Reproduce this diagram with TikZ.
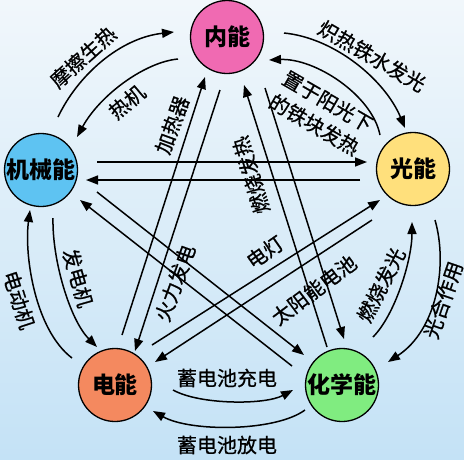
\documentclass[tikz,border=0pt]{standalone}
\usepackage{fontspec}
\newfontfamily\cjk{Noto Sans CJK SC}
\newfontfamily\cjkm[FakeBold=0.8]{Noto Sans CJK SC}
\usetikzlibrary{arrows.meta,calc}
\definecolor{bgtop}{RGB}{241,247,251}
\definecolor{bgmid}{RGB}{228,240,249}
\definecolor{bgbot}{RGB}{196,226,246}
\definecolor{cpink}{RGB}{240,106,178}
\definecolor{cblue}{RGB}{94,195,242}
\definecolor{cyellow}{RGB}{255,224,124}
\definecolor{corange}{RGB}{244,137,95}
\definecolor{cgreen}{RGB}{128,236,128}
\tikzset{
  energy/.style={circle, draw=black, line width=1.3pt, minimum size=73pt, inner sep=0pt,
    font=\cjk\bfseries\fontsize{23}{23}\selectfont},
  lbl/.style={font=\cjkm\fontsize{20}{27}\selectfont, inner sep=0pt, align=center},
  arr/.style={line width=1.5pt, -{Triangle[length=12pt,width=9pt]}}
}
\begin{document}
\begin{tikzpicture}[x=1pt,y=-1pt]
\useasboundingbox (0,0) rectangle (464,459);
\shade[top color=bgtop, middle color=bgmid, bottom color=bgbot] (0,0) rectangle (464,459);

% energy nodes
\node[energy, fill=cpink]   (N) at (227,37)  {内能};
\node[energy, fill=cblue]   (M) at (41,170)  {机械能};
\node[energy, fill=cyellow] (G) at (413,169) {光能};
\node[energy, fill=corange] (E) at (115,385) {电能};
\node[energy, fill=cgreen]  (C) at (342,385) {化学能};

% curved connectors
\draw[arr] ($(M)+(17,-53)$) .. controls (78,75) and (120,38) .. ($(N)+(-53,-5)$);
\draw[arr] ($(N)+(-49,22)$) .. controls (145,62) and (100,95) .. ($(M)+(36,-33)$);
\draw[arr] ($(N)+(57,-4)$) .. controls (335,38) and (385,80) .. ($(G)+(-8,-41)$);
\draw[arr] ($(G)+(-33,-34)$) .. controls (372,95) and (315,58) .. ($(N)+(42,23)$);
\draw[arr] ($(E)+(-43,-27)$) .. controls (35,330) and (24,255) .. ($(M)+(-11,40)$);
\draw[arr] ($(M)+(12,48)$) .. controls (52,260) and (70,320) .. ($(E)+(-18,-38)$);
\draw[arr] ($(E)+(58,5)$) .. controls (200,405) and (265,405) .. ($(C)+(-49,5)$);
\draw[arr] ($(C)+(-37,25)$) .. controls (275,432) and (190,432) .. ($(E)+(38,26)$);
\draw[arr] ($(C)+(31,-48)$) .. controls (395,315) and (412,260) .. ($(G)+(-1,53)$);
\draw[arr] ($(G)+(22,51)$) .. controls (448,265) and (437,330) .. ($(C)+(46,-23)$);

% straight connectors
\draw[arr] ($(M)+(56,-8)$) -- ($(G)+(-46,-7)$);
\draw[arr] ($(G)+(-53,11)$) -- ($(M)+(45,10)$);
\draw[arr] ($(E)+(7,-50)$) -- ($(N)+(-22,40)$);
\draw[arr] ($(N)+(-7,53)$) -- ($(E)+(20,-34)$);
\draw[arr] ($(C)+(-15,-38)$) -- ($(N)+(17,48)$);
\draw[arr] ($(N)+(38,51)$) -- ($(C)+(2,-46)$);
\draw[arr] ($(M)+(56,22)$) -- ($(C)+(-38,-30)$);
\draw[arr] ($(C)+(-50,-19)$) -- ($(M)+(39,30)$);
\draw[arr] ($(E)+(37,-40)$) -- ($(G)+(-33,31)$);
\draw[arr] ($(G)+(-41,51)$) -- ($(E)+(40,-23)$);

% labels
\node[lbl, rotate=42]  (l1)  at (83,57)   {摩擦生热};
\node[lbl, rotate=40]  (l2)  at (127,102) {热机};
\node[lbl, rotate=-30] (l3)  at (372,56)  {炽热铁水发光};
\node[lbl, rotate=-30] (l4)  at (321,113) {置于阳光下\\的铁块发热};
\node[lbl, rotate=70]  (l5)  at (172,125) {加热器};
\node[lbl, rotate=70]  (l6)  at (175,283) {火力发电};
\node[lbl, rotate=107] (l7)  at (251,175) {燃烧发热};
\node[lbl, rotate=35]  (l8)  at (265,252) {电灯};
\node[lbl, rotate=37]  (l9)  at (314,290) {太阳能电池};
\node[lbl, rotate=-72] (l10) at (19,300)  {电动机};
\node[lbl, rotate=-74] (l11) at (78,278)  {发电机};
\node[lbl]             (l12) at (227,378) {蓄电池充电};
\node[lbl]             (l13) at (227,445) {蓄电池放电};
\node[lbl, rotate=63]  (l14) at (381,285) {燃烧发光};
\node[lbl, rotate=71]  (l15) at (443,300) {光合作用};
\end{tikzpicture}
\end{document}
